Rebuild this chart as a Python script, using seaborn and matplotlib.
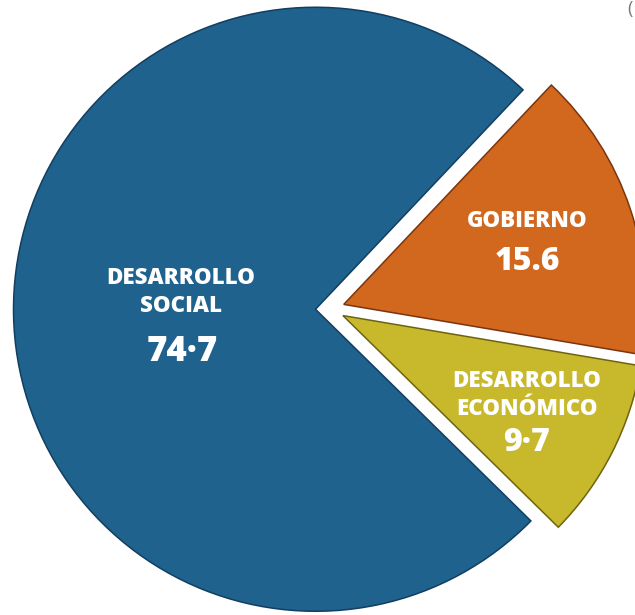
import matplotlib
matplotlib.use("Agg")
import matplotlib.pyplot as plt
import seaborn as sns

# Data
categories = ["DESARROLLO\nECONÓMICO", "GOBIERNO", "DESARROLLO\nSOCIAL"]
values = [9.7, 15.6, 74.7]
value_labels = ["9·7", "15.6", "74·7"]

sns.set_theme(style="white")
plt.rcParams['font.family'] = ['Open Sans', 'DejaVu Sans']

colors = ["#C8B82B", "#D2671E", "#1F628E"]
edges = ["#6E6410", "#7A3510", "#123E60"]

W, H = 635, 615
fig = plt.figure(figsize=(W / 100, H / 100), dpi=100)
ax = fig.add_axes([0, 0, 1, 1])

wedges, _ = ax.pie(values, colors=colors, startangle=-44.5, counterclock=True,
                   explode=[0.048] * len(values), radius=1.0,
                   wedgeprops=dict(linewidth=1.1))
for w, ec in zip(wedges, edges):
    w.set_edgecolor(ec)

R = 302.0
cx, cy = 330.0, 309.0
ax.set_xlim(-cx / R, (W - cx) / R)
ax.set_ylim(-(H - cy) / R, cy / R)
ax.set_aspect('equal')
ax.axis('off')


def ftxt(px, py, s, size, **kw):
    fig.text(px / W, 1 - py / H, s, fontsize=size, color='white',
             fontweight='heavy', ha='center', va='center',
             linespacing=1.22, **kw)


# Social
ftxt(181, 292, categories[2], 16)
ftxt(182, 352, value_labels[2], 25)
# Gobierno
ftxt(527, 221, categories[1], 16)
ftxt(527, 262, value_labels[1], 23)
# Economico
ftxt(527, 395, categories[0], 16)
ftxt(526, 443, value_labels[0], 23)

fig.text(627 / W, 1 - 9 / H, "(", fontsize=13, color='#777777',
         ha='left', va='center')

fig.savefig("out.png", dpi=100)
